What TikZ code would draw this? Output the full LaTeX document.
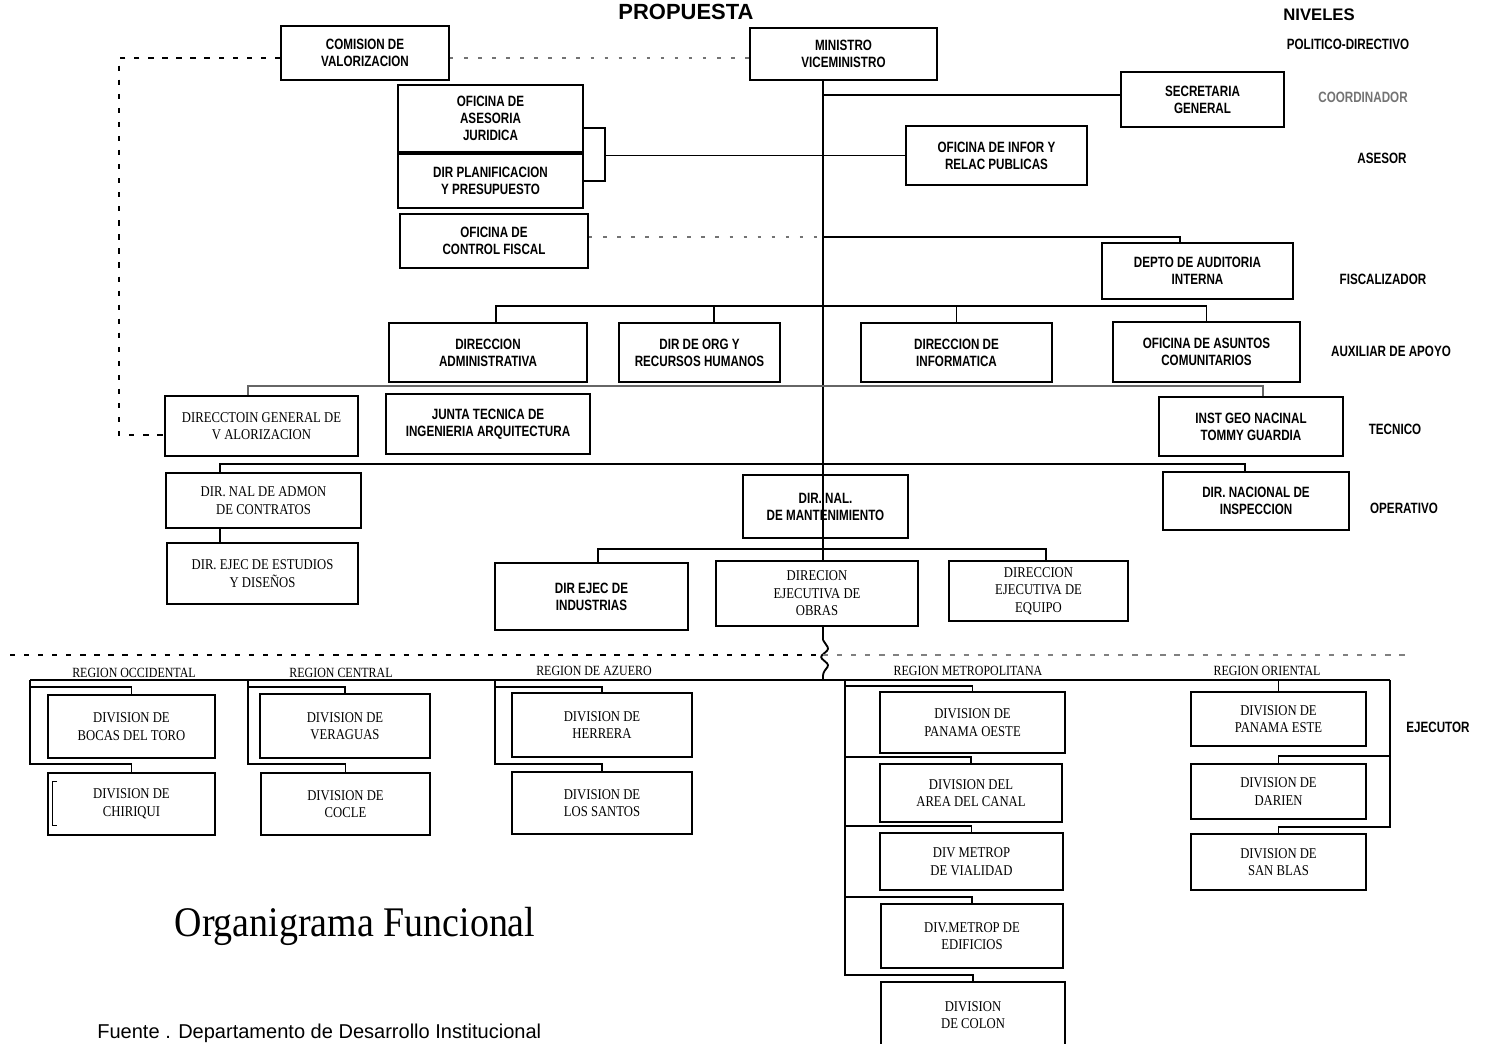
\documentclass[tikz,border=0pt]{standalone}
\usepackage{fontspec}
\setmainfont{Liberation Serif}
\newfontfamily\boxfont[FakeStretch=0.78]{Liberation Sans}
\newfontfamily\serfont[FakeStretch=0.85]{Liberation Serif}
\newfontfamily\titlefont[FakeStretch=0.9]{Liberation Serif}
\newfontfamily\headfont{Liberation Sans}
\usetikzlibrary{calc}

\tikzset{
  orgbox/.style 2 args={draw, line width=1.1pt, fill=white, inner sep=0pt, align=center,
    minimum width=#1*0.02cm, minimum height=#2*0.02cm,
    font=\boxfont\bfseries\fontsize{8.5}{9.6}\selectfont},
  serbox/.style 2 args={orgbox={#1}{#2}, font=\serfont\fontsize{8.5}{10}\selectfont},
  level/.style={font=\boxfont\bfseries\fontsize{8.5}{10}\selectfont, inner sep=0pt},
  region/.style={font=\serfont\fontsize{8}{9}\selectfont, inner sep=0pt, anchor=base},
  link/.style={line width=1.05pt},
  dashline/.style={line width=1.1pt, dash pattern=on 3pt off 5pt},
  dotline/.style={line width=1.3pt, dash pattern=on 2pt off 6pt, black!55}
}

\begin{document}
\begin{tikzpicture}[x=0.02cm, y=-0.02cm]
\fill[white] (0,0) rectangle (1490,1044);
\useasboundingbox (0,0) rectangle (1490,1044);

    % titles and levels
    \node[font=\headfont\bfseries\fontsize{12.5}{14}\selectfont] (Prop) at (686,12) {PROPUESTA};
    \node[font=\headfont\bfseries\fontsize{9.5}{11}\selectfont] (Niv) at (1319,15) {NIVELES};
    \node[level] (lvPol) at (1348,44) {POLITICO-DIRECTIVO};
    \node[level, black!55] (lvCoo) at (1363,97) {COORDINADOR};
    \node[level] (lvAse) at (1382,158) {ASESOR};
    \node[level] (lvFis) at (1383,279) {FISCALIZADOR};
    \node[level] (lvAux) at (1391,351) {AUXILIAR DE APOYO};
    \node[level] (lvTec) at (1395,429) {TECNICO};
    \node[level] (lvOpe) at (1404,508) {OPERATIVO};
    \node[level] (lvEje) at (1438,727) {EJECUTOR};

    % central level
    \node[orgbox={168}{54}] (Com) at (365,53) {COMISION DE\\VALORIZACION};
    \node[orgbox={187}{52}] (Min) at (843.5,54) {MINISTRO\\VICEMINISTRO};
    \node[orgbox={163}{55}] (Sec) at (1202.5,99.5) {SECRETARIA\\GENERAL};
    \node[orgbox={185}{67}] (Jur) at (490.5,118.5) {OFICINA DE\\ASESORIA\\JURIDICA};
    \node[orgbox={185}{54}] (Plan) at (490.5,181) {DIR  PLANIFICACION\\Y PRESUPUESTO};
    \node[orgbox={188}{54}] (Fis) at (494,241) {OFICINA DE\\CONTROL FISCAL};
    \node[orgbox={181}{59}] (Inf) at (996.5,155.5) {OFICINA DE INFOR  Y\\RELAC  PUBLICAS};
    \node[orgbox={191}{56}] (Aud) at (1197.5,271) {DEPTO  DE AUDITORIA\\INTERNA};

    \node[orgbox={198}{59}] (Adm) at (488,352.5) {DIRECCION\\ADMINISTRATIVA};
    \node[orgbox={161}{59}] (Org) at (699.5,352.5) {DIR  DE  ORG  Y\\RECURSOS HUMANOS};
    \node[orgbox={191}{59}] (Info) at (956.5,352.5) {DIRECCION DE\\INFORMATICA};
    \node[orgbox={187}{60}] (Asu) at (1206.5,352) {OFICINA DE ASUNTOS\\COMUNITARIOS};

    \node[serbox={193}{60}] (Val) at (261.5,426) {DIRECCTOIN GENERAL DE\\V ALORIZACION};
    \node[orgbox={204}{60}] (Jun) at (488,424) {JUNTA TECNICA DE\\INGENIERIA ARQUITECTURA};
    \node[orgbox={184}{59}] (Geo) at (1251,426.5) {INST  GEO  NACINAL\\TOMMY GUARDIA};

    \node[serbox={195}{55}] (Admon) at (263.5,500.5) {DIR. NAL  DE ADMON\\DE CONTRATOS};
    \node[orgbox={165}{63}] (Mant) at (825.5,506.5) {DIR. NAL.\\DE MANTENIMIENTO};
    \node[orgbox={186}{58}] (Insp) at (1256,501) {DIR. NACIONAL DE\\INSPECCION};
    \node[serbox={191}{61}] (Est) at (262.5,573.5) {DIR.  EJEC  DE ESTUDIOS\\Y DISEÑOS};

    \node[orgbox={193}{67}] (Ind) at (591.5,596.5) {DIR  EJEC  DE\\INDUSTRIAS};
    \node[serbox={202}{65}] (Obr) at (817,593.5) {DIRECION\\EJECUTIVA DE\\OBRAS};
    \node[serbox={179}{60}] (Equ) at (1038.5,591) {DIRECCION\\EJECUTIVA DE\\EQUIPO};

    % regional level
    \node[serbox={167}{63}] (Boc) at (131.5,726.5) {DIVISION DE\\BOCAS DEL TORO};
    \node[serbox={167}{62}] (Chi) at (131.5,804) {DIVISION DE\\CHIRIQUI};
    \node[serbox={170}{64}] (Ver) at (345,726) {DIVISION DE\\VERAGUAS};
    \node[serbox={169}{62}] (Coc) at (345.5,804) {DIVISION DE\\COCLE};
    \node[serbox={180}{64}] (Her) at (602,725) {DIVISION DE\\HERRERA};
    \node[serbox={180}{62}] (San) at (602,803) {DIVISION DE\\LOS SANTOS};
    \node[serbox={185}{61}] (Oes) at (972.5,722.5) {DIVISION DE\\PANAMA OESTE};
    \node[serbox={182}{58}] (Can) at (971,793) {DIVISION DEL\\AREA DEL CANAL};
    \node[serbox={183}{57}] (Via) at (971.5,861.5) {DIV  METROP\\DE VIALIDAD};
    \node[serbox={182}{64}] (Edi) at (972,936) {DIV.METROP  DE\\EDIFICIOS};
    \node[serbox={184}{66}] (Col) at (973,1015) {DIVISION\\DE COLON};
    \node[serbox={175}{54}] (PanE) at (1278.5,719) {DIVISION DE\\PANAMA ESTE};
    \node[serbox={175}{55}] (Dar) at (1278.5,791.5) {DIVISION DE\\DARIEN};
    \node[serbox={175}{56}] (SBl) at (1278.5,862) {DIVISION DE\\SAN BLAS};

    \node[region] (rOcc) at (134,677) {REGION OCCIDENTAL};
    \node[region] (rCen) at (341,677) {REGION CENTRAL};
    \node[region] (rAzu) at (594,675) {REGION DE AZUERO};
    \node[region] (rMet) at (968,675) {REGION METROPOLITANA};
    \node[region] (rOri) at (1267,675) {REGION ORIENTAL};

    \node[font=\titlefont\fontsize{24}{28}\selectfont] (Title) at (355,926) {Organigrama Funcional};
    \node[anchor=north west, inner sep=0pt, font=\headfont\fontsize{11.4}{13}\selectfont] (Src) at (97,1024) {Fuente . Departamento de Desarrollo Institucional};

    % trunk
    \coordinate (trk) at ($(Min.south)+(-20.5,0)$);
    \coordinate (brk) at (823,640);
    \coordinate (regL) at (30,680);
    \coordinate (regC) at (248,680);
    \coordinate (regA) at (495,680);
    \coordinate (regM) at (845,680);
    \coordinate (regR) at (1390,680);
    \coordinate (sepL) at (10,655);
    \coordinate (sepR) at (1410,655);

    \draw[link] (trk) -- (trk |- Obr.north);
    \draw[link] (trk |- Obr.south) -- (brk);
    \draw[link, rounded corners=1.5pt] (brk) -- ++(6,9) -- ++(-9,8) -- ++(9,8) -- ++(-6,8) -- (brk |- regL);

    \draw[link] ($(Sec.west)+(0,-4.5)$) -- ($(Sec.west -| trk)+(0,-4.5)$);

    \draw[link] ($(Jur.east)+(0,9.5)$) -| ($(Plan.east)+(21,0)$) -- (Plan.east);
    \draw[link] (Inf.west) -- ($(Inf.west -| Plan.east)+(21,0)$);

    \draw[dotline] ($(Fis.east)+(0,-4)$) -- ($(Fis.east -| trk)+(0,-4)$);
    \draw[link] ($(Fis.east -| trk)+(0,-4)$) -| ($(Aud.north)+(-17.5,0)$);

    \draw[link] ($(Adm.north)+(8,0)$) -- ++(0,-16) -| (Asu.north);
    \draw[link] ($(Org.north)+(14.5,0)$) -- ++(0,-16);
    \draw[link] (Info.north) -- ++(0,-16);

    \draw[link, black!60] ($(Val.north)+(-13.5,0)$) -- ++(0,-9) -| ($(Geo.north)+(12,0)$);

    \draw[link] ($(Admon.north)+(-43.5,0)$) -- ++(0,-8) -| ($(Insp.north)+(-11,0)$);
    \draw[link] ($(Admon.south)+(-43.5,0)$) -- ($(Est.north)+(-42.5,0)$);

    \draw[link] ($(Ind.north)+(6.5,0)$) -- ++(0,-13) -| ($(Equ.north)+(7.5,0)$);

    % staff links
    \draw[dashline] ($(Com.west)+(0,5)$) -| ($(Val.west)+(-45,9)$) -- ($(Val.west)+(0,9)$);
    \draw[dotline] ($(Com.east)+(0,5)$) -- ($(Min.west)+(0,4)$);

    % separator and regions
    \draw[dashline] (sepL) -- (sepL -| brk);
    \draw[dashline, black!50] (sepL -| brk) -- (sepR);
    \draw[link] (regL) -- (regR);

    \draw[link] (regL) |- ($(Chi.north)+(0,-8)$) -- (Chi.north);
    \draw[link] ($(regL)+(0,7)$) -| (Boc.north);
    \draw[link] (regC) |- ($(Coc.north)+(0,-8)$) -- (Coc.north);
    \draw[link] ($(regC)+(0,7)$) -| (Ver.north);
    \draw[link] (regA) |- ($(San.north)+(0,-7)$) -- (San.north);
    \draw[link] ($(regA)+(0,7)$) -| (Her.north);

    \draw[link] (regM) |- ($(Col.north)+(0,-6)$) -- (Col.north);
    \draw[link] ($(regM)+(0,6)$) -| (Oes.north);
    \draw[link] ($(regM |- Can.north)+(0,-6)$) -| (Can.north);
    \draw[link] ($(regM |- Via.north)+(0,-6)$) -| (Via.north);
    \draw[link] ($(regM |- Edi.north)+(0,-6)$) -| (Edi.north);

    \draw[link] (regR) |- ($(SBl.north)+(0,-6)$) -- (SBl.north);
    \draw[link] (PanE.north |- regR) -- (PanE.north);
    \draw[link] ($(regR |- Dar.north)+(0,-7)$) -| (Dar.north);

    \draw[line width=0.6pt] ($(Chi.north west)+(10,9)$) -- ++(-5,0) -- ++(0,44) -- ++(5,0);

\end{tikzpicture}
\end{document}
